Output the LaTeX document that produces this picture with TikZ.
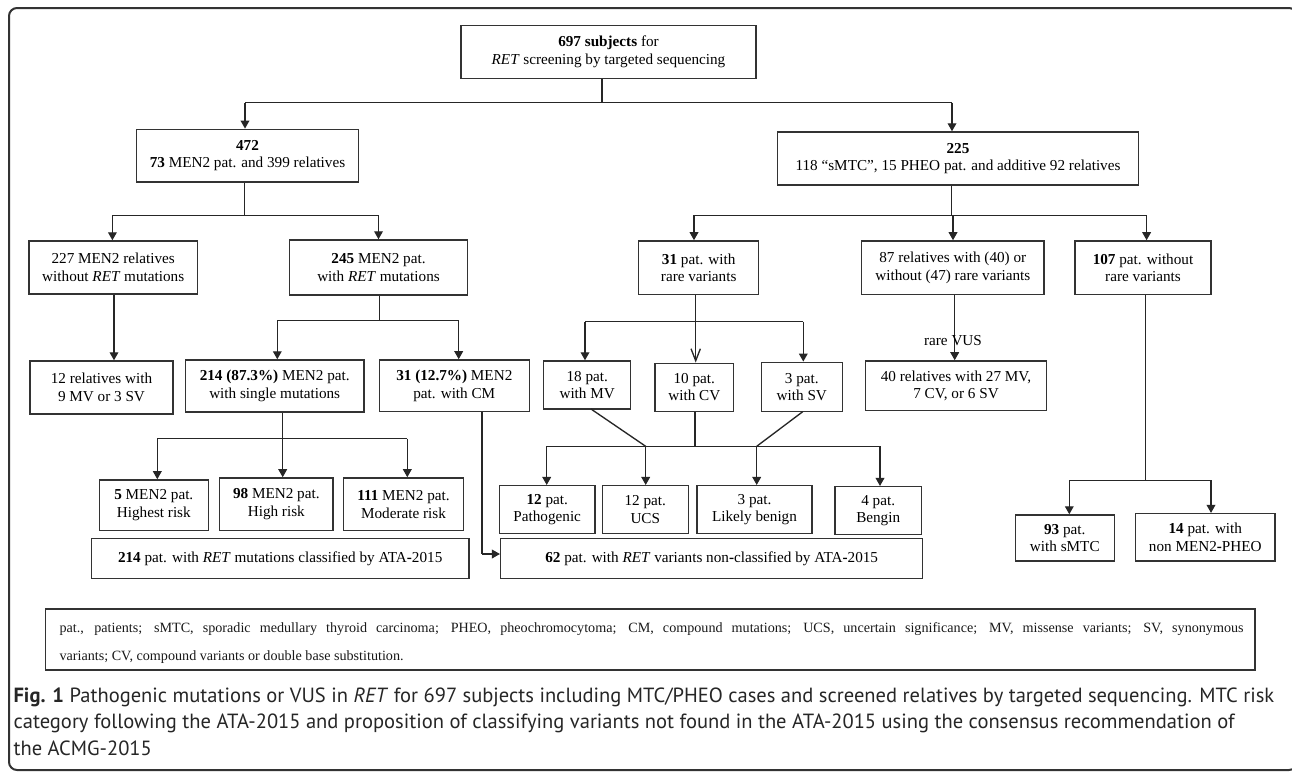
\documentclass[tikz,border=0pt]{standalone}
\usepackage{fontspec}
\setmainfont{Liberation Serif}
\newfontfamily\capfont{PT Sans}
\usetikzlibrary{arrows.meta}
\newcommand\boxfont{\fontsize{11.4}{13.1}\selectfont}
\newcommand\legfont{\fontsize{10.6}{12}\selectfont}
\newcommand\capfnt{\capfont\fontsize{15.4}{19}\selectfont}
\begin{document}
\begin{tikzpicture}[x=0.75pt,y=-0.75pt,
  box/.style={draw=black!80, line width=1.1pt, inner sep=0pt, align=center, font=\boxfont},
  sz/.style 2 args={minimum width=#1*0.75pt, minimum height=#2*0.75pt},
  conn/.style={draw=black!85, line width=1pt},
  arr/.style={conn, -{Triangle[length=6pt,width=6.5pt]}},
  oarr/.style={conn, -{Straight Barb[length=9pt,width=7pt,line width=1pt]}},
  lbl/.style={inner sep=0pt, font=\boxfont},
  leg/.style={inner sep=0pt, anchor=base west, font=\legfont, text=black!90},
  captxt/.style={inner sep=0pt, anchor=base west, font=\capfnt, text=black!85}]
\useasboundingbox (0,0) rectangle (1292,772);
\fill[white] (0,0) rectangle (1292,772);
% outer frame
\draw[draw=black!80, line width=1.5pt, rounded corners=6pt] (9,8) rectangle (1297,770);

% level 0
\node[box, sz={295}{53}] (top) at (608.5,51.8) {\textbf{697 subjects} for\\\textit{RET} screening by targeted sequencing};
% level 1
\node[box, sz={222}{52.7}] (b472) at (247.5,155.7) {\textbf{472}\\\textbf{73} MEN2 pat. and 399 relatives};
\node[box, sz={360.7}{53}] (b225) at (958,158.5) {\textbf{225}\\118 “sMTC”, 15 PHEO pat. and additive 92 relatives};
% level 2
\node[box, sz={168.3}{53}] (b227) at (113.2,267.5) {227 MEN2 relatives\\without \textit{RET} mutations};
\node[box, sz={178.3}{55}] (b245) at (378.5,267.5) {\textbf{245} MEN2 pat.\\with \textit{RET} mutations};
\node[box, sz={120}{53.7}] (b31rv) at (698.7,267.8) {\textbf{31} pat. with\\rare variants};
\node[box, sz={182.5}{53.7}] (b87) at (952.8,267.8) {87 relatives with (40) or\\without (47) rare variants};
\node[box, sz={136}{53.7}] (b107) at (1143,267.8) {\textbf{107} pat. without\\rare variants};
% level 3
\node[box, sz={143}{53}] (b12rel) at (101.5,387.5) {12 relatives with\\9 MV or 3 SV};
\node[box, sz={178.7}{52}] (b214) at (274.7,386) {\textbf{214 (87.3\%)} MEN2 pat.\\with single mutations};
\node[box, sz={150}{51.7}] (b31cm) at (454.3,385.8) {\textbf{31 (12.7\%)} MEN2\\pat. with CM};
\node[box, sz={87}{48}] (b18) at (587.2,385) {18 pat.\\with MV};
\node[box, sz={78.7}{48}] (b10) at (694.3,387.3) {10 pat.\\with CV};
\node[box, sz={81}{49.4}] (b3sv) at (801.8,387) {3 pat.\\with SV};
\node[box, sz={180.6}{49.7}] (b40) at (956,385.8) {40 relatives with 27 MV,\\7 CV, or 6 SV};
% level 4
\node[box, sz={109}{50.7}] (b5) at (153.8,505.3) {\textbf{5} MEN2 pat.\\Highest risk};
\node[box, sz={113.3}{52.7}] (b98) at (276.3,504.3) {\textbf{98} MEN2 pat.\\High risk};
\node[box, sz={119.6}{52.7}] (b111) at (403.5,504.3) {\textbf{111} MEN2 pat.\\Moderate risk};
\node[box, sz={95.7}{47.6}] (b12P) at (547.2,509.5) {\textbf{12} pat.\\Pathogenic};
\node[box, sz={86}{47.6}] (b12U) at (645.3,509.5) {12 pat.\\UCS};
\node[box, sz={115}{47.6}] (b3LB) at (754.5,509.5) {3 pat.\\Likely benign};
\node[box, sz={86.3}{47.6}] (b4) at (878.2,510.5) {4 pat.\\Bengin};
\node[box, sz={99}{46}] (b93) at (1064.8,538) {\textbf{93} pat.\\with sMTC};
\node[box, sz={139.3}{47.3}] (b14) at (1205.3,537.3) {\textbf{14} pat. with\\non MEN2\textbf{-}PHEO};
% level 5
\node[box, sz={377.7}{39.6}] (bATA) at (280.2,558.5) {\textbf{214} pat. with \textit{RET} mutations classified by ATA\textbf{-}2015};
\node[box, sz={422}{40}] (b62) at (711.7,558.3) {\textbf{62} pat. with \textit{RET} variants non\textbf{-}classified by ATA\textbf{-}2015};

% junction coordinates
\coordinate (j0) at (602,102.7);
\coordinate (j0L) at (245,102.7);
\coordinate (j0R) at (952,102.7);
\coordinate (j1) at (244.6,215.3);
\coordinate (j1L) at (112.4,215.3);
\coordinate (j1R) at (378.5,215.3);
\coordinate (j2) at (951.8,215.3);
\coordinate (j2L) at (694,215.3);
\coordinate (j2M) at (953,215.3);
\coordinate (j2R) at (1146.6,215.3);
\coordinate (j3) at (379.3,320.7);
\coordinate (j3L) at (277.3,320.7);
\coordinate (j3R) at (458.7,320.7);
\coordinate (j4) at (695.7,321.7);
\coordinate (j4L) at (585,321.7);
\coordinate (j4R) at (803.3,321.7);
\coordinate (j5) at (282.7,438.7);
\coordinate (j5L) at (157.3,438.7);
\coordinate (j5R) at (407.3,438.7);
\coordinate (j6L) at (546.7,446.3);
\coordinate (j6a) at (645.7,446.3);
\coordinate (j6b) at (695,446.3);
\coordinate (j6c) at (756.7,446.3);
\coordinate (j6R) at (880,446.3);
\coordinate (j7) at (1145.3,480.3);
\coordinate (j7L) at (1069.3,480.3);
\coordinate (j7R) at (1211,480.3);
\coordinate (cmT) at (482,411.7);
\coordinate (cmB) at (482,554);
\coordinate (d18) at (591,409);
\coordinate (d3) at (802.7,411.7);
\coordinate (vus) at (954.7,294.7);
\coordinate (r227) at (114,294);

% connectors
\draw[conn] (j0 |- top.south) -- (j0);
\draw[conn] (j0L) -- (j0R);
\draw[arr] (j0L) -- (j0L |- b472.north);
\draw[arr] (j0R) -- (j0R |- b225.north);

\draw[conn] (j1 |- b472.south) -- (j1);
\draw[conn] (j1L) -- (j1R);
\draw[arr] (j1L) -- (j1L |- b227.north);
\draw[arr] (j1R) -- (j1R |- b245.north);

\draw[conn] (j2 |- b225.south) -- (j2);
\draw[conn] (j2L) -- (j2R);
\draw[arr] (j2L) -- (j2L |- b31rv.north);
\draw[arr] (j2M) -- (j2M |- b87.north);
\draw[arr] (j2R) -- (j2R |- b107.north);

\draw[arr] (r227 |- b227.south) -- (r227 |- b12rel.north);

\draw[conn] (j3 |- b245.south) -- (j3);
\draw[conn] (j3L) -- (j3R);
\draw[arr] (j3L) -- (j3L |- b214.north);
\draw[arr] (j3R) -- (j3R |- b31cm.north);

\draw[conn] (j4 |- b31rv.south) -- (j4);
\draw[conn] (j4L) -- (j4R);
\draw[arr] (j4L) -- (j4L |- b18.north);
\draw[oarr] (j4) -- (j4 |- b10.north);
\draw[arr] (j4R) -- (j4R |- b3sv.north);

\draw[conn] (j5 |- b214.south) -- (j5);
\draw[conn] (j5L) -- (j5R);
\draw[arr] (j5L) -- (j5L |- b5.north);
\draw[arr] (j5) -- (j5 |- b98.north);
\draw[arr] (j5R) -- (j5R |- b111.north);

\draw[conn] (cmT |- b31cm.south) -- (cmB) ;
\draw[arr] (cmB) -- (cmB -| b62.west);

\draw[conn] (d18) -- (j6a);
\draw[conn] (j6b |- b10.south) -- (j6b);
\draw[conn] (d3) -- (j6c);
\draw[conn] (j6L) -- (j6R);
\draw[arr] (j6L) -- (j6L |- b12P.north);
\draw[arr] (j6a) -- (j6a |- b12U.north);
\draw[arr] (j6c) -- (j6c |- b3LB.north);
\draw[arr] (j6R) -- (j6R |- b4.north);

\draw[arr] (vus |- b87.south) -- (vus |- b40.north);
\node[lbl] (vuslbl) at (953,341) {rare VUS};

\draw[conn] (j7 |- b107.south) -- (j7);
\draw[conn] (j7L) -- (j7R);
\draw[arr] (j7L) -- (j7L |- b93.north);
\draw[arr] (j7R) -- (j7R |- b14.north);

% legend
\node[draw=black!80, line width=1.1pt, inner sep=0pt, sz={1209.3}{61}] (legend) at (650.35,639.5) {};
\node[leg] (leg1) at (59.3,632) {\makebox[888pt][s]{pat., patients; sMTC, sporadic medullary thyroid carcinoma; PHEO, pheochromocytoma; CM, compound mutations; UCS, uncertain significance; MV, missense variants; SV, synonymous}};
\node[leg] (leg2) at (59.3,660) {variants; CV, compound variants or double base substitution.};

% caption
\node[captxt] (cap1) at (13.3,702) {\textbf{Fig. 1} Pathogenic mutations or VUS in \textit{RET} for 697 subjects including MTC/PHEO cases and screened relatives by targeted sequencing. MTC risk};
\node[captxt] (cap2) at (13.3,728.5) {category following the ATA-2015 and proposition of classifying variants not found in the ATA-2015 using the consensus recommendation of};
\node[captxt] (cap3) at (13.3,755) {the ACMG-2015};
\end{tikzpicture}
\end{document}
